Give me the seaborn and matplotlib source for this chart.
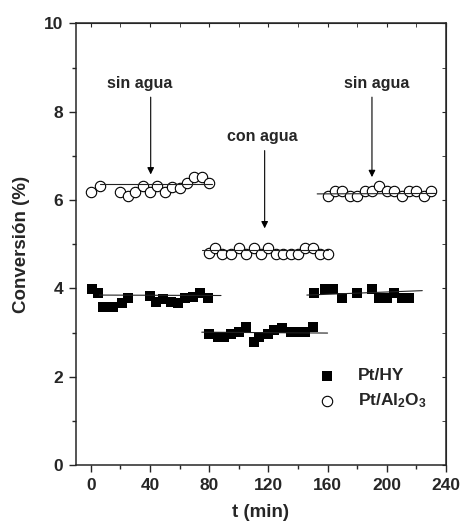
import numpy as np
import matplotlib
matplotlib.use('Agg')
import matplotlib.pyplot as plt
import seaborn as sns

sns.set_style('ticks')
plt.rcParams['font.family'] = ['Liberation Sans', 'DejaVu Sans']
plt.rcParams['font.weight'] = 'bold'
plt.rcParams['mathtext.fontset'] = 'custom'
plt.rcParams['mathtext.rm'] = 'Liberation Sans:bold'
plt.rcParams['mathtext.default'] = 'rm'

# Pt/HY (squares), three periods
hy_t1 = [1, 5, 8, 15, 21, 25, 40, 44, 49, 54, 59, 64, 69, 74, 79]
hy_v1 = [3.99, 3.89, 3.59, 3.59, 3.68, 3.79, 3.83, 3.70, 3.76, 3.70, 3.68, 3.79, 3.81, 3.89, 3.79]
hy_t2 = [80, 86, 90, 95, 100, 105, 110, 114, 120, 124, 129, 135, 140, 145, 150]
hy_v2 = [2.98, 2.89, 2.89, 2.98, 3.02, 3.12, 2.79, 2.91, 2.98, 3.06, 3.10, 3.02, 3.02, 3.02, 3.12]
hy_t3 = [151, 158, 164, 170, 180, 190, 195, 200, 205, 210, 215]
hy_v3 = [3.89, 3.99, 3.99, 3.79, 3.89, 3.99, 3.79, 3.79, 3.89, 3.79, 3.79]

# Pt/Al2O3 (circles), three periods
al_t1 = [0, 6, 20, 25, 30, 35, 40, 45, 50, 55, 60, 65, 70, 75, 80]
al_v1 = [6.19, 6.32, 6.18, 6.10, 6.19, 6.32, 6.19, 6.32, 6.19, 6.30, 6.27, 6.39, 6.52, 6.52, 6.39]
al_t2 = [80, 84, 89, 95, 100, 105, 110, 115, 120, 125, 130, 135, 140, 145, 150, 155, 160]
al_v2 = [4.80, 4.91, 4.77, 4.77, 4.91, 4.77, 4.91, 4.77, 4.91, 4.77, 4.77, 4.77, 4.77, 4.91, 4.91, 4.77, 4.77]
al_t3 = [160, 165, 170, 175, 180, 185, 190, 195, 200, 205, 210, 215, 220, 225, 230]
al_v3 = [6.09, 6.20, 6.20, 6.09, 6.09, 6.20, 6.20, 6.32, 6.20, 6.20, 6.09, 6.20, 6.20, 6.09, 6.20]

# fitted lines (start/end)
fit_t = [[6, 88], [75, 160], [146, 224], [6, 82], [75, 160], [153, 233]]
fit_v = [[3.85, 3.84], [3.01, 2.99], [3.85, 3.95], [6.36, 6.36], [4.86, 4.86], [6.14, 6.15]]

notes = ['sin agua', 'con agua', 'sin agua']
note_t = [33, 116, 193]
note_v = [8.65, 7.45, 8.65]
arrow_t = [40.5, 117.5, 190]
arrow_top = [8.33, 7.12, 8.33]
arrow_tip = [6.58, 5.36, 6.52]

fig = plt.figure(figsize=(4.66, 5.31), dpi=100)
ax = fig.add_axes([0.163, 0.124, 0.794, 0.832])

hy_t = hy_t1 + hy_t2 + hy_t3
hy_v = hy_v1 + hy_v2 + hy_v3
al_t = al_t1 + al_t2 + al_t3
al_v = al_v1 + al_v2 + al_v3

sns.scatterplot(x=hy_t, y=hy_v, marker='s', color='black', edgecolor='black',
                s=62, linewidth=0, ax=ax, label='Pt/HY', zorder=3)
sns.scatterplot(x=al_t, y=al_v, marker='o', color='white', edgecolor='black',
                s=56, linewidth=0.8, ax=ax, label='Pt/Al$_2$O$_3$', zorder=3)

for ft, fv in zip(fit_t, fit_v):
    ax.plot(ft, fv, color='#222222', lw=0.8, zorder=4)

for txt, tx, ty in zip(notes, note_t, note_v):
    ax.text(tx, ty, txt, ha='center', va='center', fontsize=11.5, fontweight='bold')
for at, a0, a1 in zip(arrow_t, arrow_top, arrow_tip):
    ax.annotate('', xy=(at, a1), xytext=(at, a0),
                arrowprops=dict(arrowstyle='-|>', color='black', lw=0.8,
                                mutation_scale=10, shrinkA=0, shrinkB=0))

ax.set_xlim(-10, 240)
ax.set_ylim(0, 10)
ax.set_xticks(np.arange(0, 241, 40))
ax.set_xticks(np.arange(0, 241, 20), minor=True)
ax.set_yticks(np.arange(0, 11, 2))
ax.set_yticks(np.arange(0, 11, 1), minor=True)
ax.tick_params(which='major', direction='out', length=5, width=1, labelsize=12.5, pad=4)
ax.tick_params(which='minor', direction='out', length=3, width=1)
for lab in ax.get_xticklabels() + ax.get_yticklabels():
    lab.set_fontweight('bold')
for sp in ax.spines.values():
    sp.set_visible(True)
    sp.set_linewidth(1.1)

top = ax.secondary_xaxis('top')
top.set_xticks(np.arange(0, 241, 40))
top.set_xticks(np.arange(0, 241, 20), minor=True)
top.tick_params(which='both', direction='in', length=3, labeltop=False)
right = ax.secondary_yaxis('right')
right.set_yticks(np.arange(0, 11, 2))
right.set_yticks(np.arange(0, 11, 1), minor=True)
right.tick_params(which='both', direction='in', length=3, labelright=False)

ax.set_xlabel('t (min)', fontsize=13.5, fontweight='bold', labelpad=8)
ax.set_ylabel('Conversión (%)', fontsize=13.5, fontweight='bold', labelpad=10)

ax.legend(loc='center left', bbox_to_anchor=(0.655, 0.172), frameon=False,
          borderpad=0, borderaxespad=0, handlelength=1,
          handletextpad=1.3, labelspacing=0.45, prop={'weight': 'bold', 'size': 12.5})

plt.savefig('out.png', dpi=100)
